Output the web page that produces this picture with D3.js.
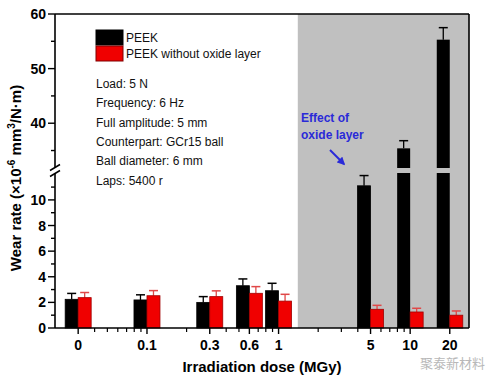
<!DOCTYPE html>
<html><head><meta charset="utf-8">
<script src="https://cdn.jsdelivr.net/npm/d3@7"></script>
<style>body{margin:0;background:#fff}svg{display:block}text{font-family:"Liberation Sans",Arial,sans-serif}</style>
</head><body><svg id="c" width="496" height="379"></svg>
<script>
// ---- data ----
const categories = ["0","0.1","0.3","0.6","1","5","10","20"];
const dosePos    = [0.03, 0.1, 0.3, 0.6, 1, 5, 10, 20]; // "0" is drawn at 0.03 on the log axis
const peek       = [2.24, 2.19, 2.0, 3.3, 2.91, 11.1, 35.4, 55.3];
const peekErr    = [0.46, 0.40, 0.45, 0.53, 0.58, 0.80, 1.40, 2.20];
const noOxide    = [2.37, 2.52, 2.45, 2.71, 2.10, 1.46, 1.25, 1.00];
const noOxideErr = [0.40, 0.40, 0.45, 0.52, 0.53, 0.31, 0.29, 0.33];
const yTicksLow  = [0,2,4,6,8,10];
const yTicksHigh = [40,50,60];
const yMinorLow  = [1,3,5,7,9,11];
const yMinorHigh = [35,45,55];
const xMinor     = [0.04,0.05,0.06,0.07,0.08,0.09,0.2,0.4,0.5,0.7,0.8,0.9,2,3,4,6,7,8,9];
const seriesNames = ["PEEK","PEEK without oxide layer"];
const conditions = ["Load: 5 N","Frequency: 6 Hz","Full amplitude: 5 mm","Counterpart: GCr15 ball","Ball diameter: 6 mm","Laps: 5400 r"];
const shadeFrom = 1.4;

const svg = d3.select("#c");
const L = 55, R = 469, T = 14, B = 328;
const x = d3.scaleLog().domain([0.02, 28]).range([L, R]);
const yLo = d3.scaleLinear().domain([0, 12.1]).range([B, 173]);
const yHi = d3.scaleLinear().domain([31.8, 60]).range([168, T]);
const yv = v => v <= 12.1 ? yLo(v) : yHi(v);
const bw = 13;

// shaded region
svg.append("rect").attr("x", x(shadeFrom)).attr("y", T).attr("width", R - x(shadeFrom)).attr("height", B - T).attr("fill", "#c0c0c0");

// bars
function drawBar(xl, v, fill, stroke) {
  if (v <= 12.1) {
    svg.append("rect").attr("x", xl).attr("y", yLo(v)).attr("width", bw).attr("height", B - yLo(v)).attr("fill", fill).attr("stroke", stroke).attr("stroke-width", 0.8);
  } else {
    svg.append("rect").attr("x", xl).attr("y", yLo(12.1)).attr("width", bw).attr("height", B - yLo(12.1)).attr("fill", fill);
    svg.append("rect").attr("x", xl).attr("y", yHi(v)).attr("width", bw).attr("height", yHi(31.8) - yHi(v)).attr("fill", fill);
  }
}
function drawErr(xc, v, e, col) {
  const y0 = yv(v), y1 = yv(v + e);
  svg.append("line").attr("x1", xc).attr("x2", xc).attr("y1", y0).attr("y2", y1).attr("stroke", col).attr("stroke-width", 1.3);
  svg.append("line").attr("x1", xc - 4.5).attr("x2", xc + 4.5).attr("y1", y1).attr("y2", y1).attr("stroke", col).attr("stroke-width", 1.5);
}
dosePos.forEach((d, i) => {
  const xc = x(d);
  drawErr(xc - bw / 2, peek[i], peekErr[i], "#000");
  drawBar(xc - bw, peek[i], "#000", "#000");
  drawErr(xc + bw / 2, noOxide[i], noOxideErr[i], "#e04848");
  drawBar(xc, noOxide[i], "#f00000", "#a00000");
});

// frame
svg.append("line").attr("x1", L).attr("x2", R).attr("y1", T).attr("y2", T).attr("stroke", "#000").attr("stroke-width", 1.6);
svg.append("line").attr("x1", R).attr("x2", R).attr("y1", T).attr("y2", B).attr("stroke", "#000").attr("stroke-width", 1.6);
svg.append("line").attr("x1", L).attr("x2", R).attr("y1", B).attr("y2", B).attr("stroke", "#000").attr("stroke-width", 1.6);
svg.append("line").attr("x1", L).attr("x2", L).attr("y1", T).attr("y2", 168).attr("stroke", "#000").attr("stroke-width", 1.6);
svg.append("line").attr("x1", L).attr("x2", L).attr("y1", 173).attr("y2", B).attr("stroke", "#000").attr("stroke-width", 1.6);
// break marks
[[167.5],[173.5]].forEach(([yy]) => {
  svg.append("line").attr("x1", L - 5).attr("x2", L + 5).attr("y1", yy + 3).attr("y2", yy - 3).attr("stroke", "#000").attr("stroke-width", 1.5);
});

// y ticks
const tickFont = "bold 14px 'Liberation Sans', Arial, sans-serif";
function yTick(yy, major, label) {
  svg.append("line").attr("x1", L - (major ? 7 : 4)).attr("x2", L).attr("y1", yy).attr("y2", yy).attr("stroke", "#000").attr("stroke-width", 1.4);
  if (label !== undefined) svg.append("text").attr("x", L - 9).attr("y", yy + 5).attr("text-anchor", "end").style("font", tickFont).text(label);
}
yTicksLow.forEach(v => yTick(yLo(v), true, v));
yTicksHigh.forEach(v => yTick(yHi(v), true, v));
yMinorLow.forEach(v => yTick(yLo(v), false));
yMinorHigh.forEach(v => yTick(yHi(v), false));

// x ticks
dosePos.forEach((d, i) => {
  svg.append("line").attr("x1", x(d)).attr("x2", x(d)).attr("y1", B).attr("y2", B + 6).attr("stroke", "#000").attr("stroke-width", 1.4);
  svg.append("text").attr("x", x(d)).attr("y", B + 22).attr("text-anchor", "middle").style("font", tickFont).text(categories[i]);
});
xMinor.forEach(d => {
  svg.append("line").attr("x1", x(d)).attr("x2", x(d)).attr("y1", B).attr("y2", B + 4).attr("stroke", "#000").attr("stroke-width", 1.2);
});

// axis titles
svg.append("text").attr("x", 262).attr("y", 372).attr("text-anchor", "middle").style("font", "bold 15px 'Liberation Sans', Arial, sans-serif").text("Irradiation dose (MGy)");
const yt = svg.append("text").attr("transform", "translate(21,178) rotate(-90)").attr("text-anchor", "middle").style("font", "bold 15px 'Liberation Sans', Arial, sans-serif");
yt.append("tspan").text("Wear rate (\u00d710");
yt.append("tspan").attr("dy", -6).style("font-size", "10px").text("-6");
yt.append("tspan").attr("dy", 6).text(" mm");
yt.append("tspan").attr("dy", -6).style("font-size", "10px").text("3");
yt.append("tspan").attr("dy", 6).text("/N\u00b7m)");

// legend
const lg = svg.append("g");
[["#000", "#000"], ["#f00000", "#800000"]].forEach((c, i) => {
  lg.append("rect").attr("x", 96).attr("y", 30 + i * 16).attr("width", 27).attr("height", 15).attr("fill", c[0]).attr("stroke", c[1]).attr("stroke-width", 1);
  lg.append("text").attr("x", 126).attr("y", 42 + i * 16).style("font", "12px 'Liberation Sans', Arial, sans-serif").attr("fill", "#111").text(seriesNames[i]);
});
conditions.forEach((t, i) => {
  svg.append("text").attr("x", 96).attr("y", 88 + i * 19.3).style("font", "12px 'Liberation Sans', Arial, sans-serif").attr("fill", "#111").text(t);
});

// annotation
svg.append("text").attr("x", 301).attr("y", 122).attr("fill", "#2a2ad8").style("font", "bold 12px 'Liberation Sans', Arial, sans-serif").text("Effect of");
svg.append("text").attr("x", 301).attr("y", 139).attr("fill", "#2a2ad8").style("font", "bold 12px 'Liberation Sans', Arial, sans-serif").text("oxide layer");
svg.append("defs").append("marker").attr("id", "ah").attr("viewBox", "0 0 10 10").attr("refX", 8).attr("refY", 5)
  .attr("markerWidth", 4).attr("markerHeight", 4).attr("orient", "auto")
  .append("path").attr("d", "M0,0L10,5L0,10z").attr("fill", "#2a2ad8");
svg.append("line").attr("x1", 330).attr("y1", 150).attr("x2", 344).attr("y2", 164).attr("stroke", "#2a2ad8").attr("stroke-width", 2).attr("marker-end", "url(#ah)");

// watermark
svg.append("text").attr("x", 420).attr("y", 368).attr("fill", "#b8b8b8")
  .style("font", "13px 'Noto Sans CJK SC', sans-serif").text("聚泰新材料");
</script></body></html>
